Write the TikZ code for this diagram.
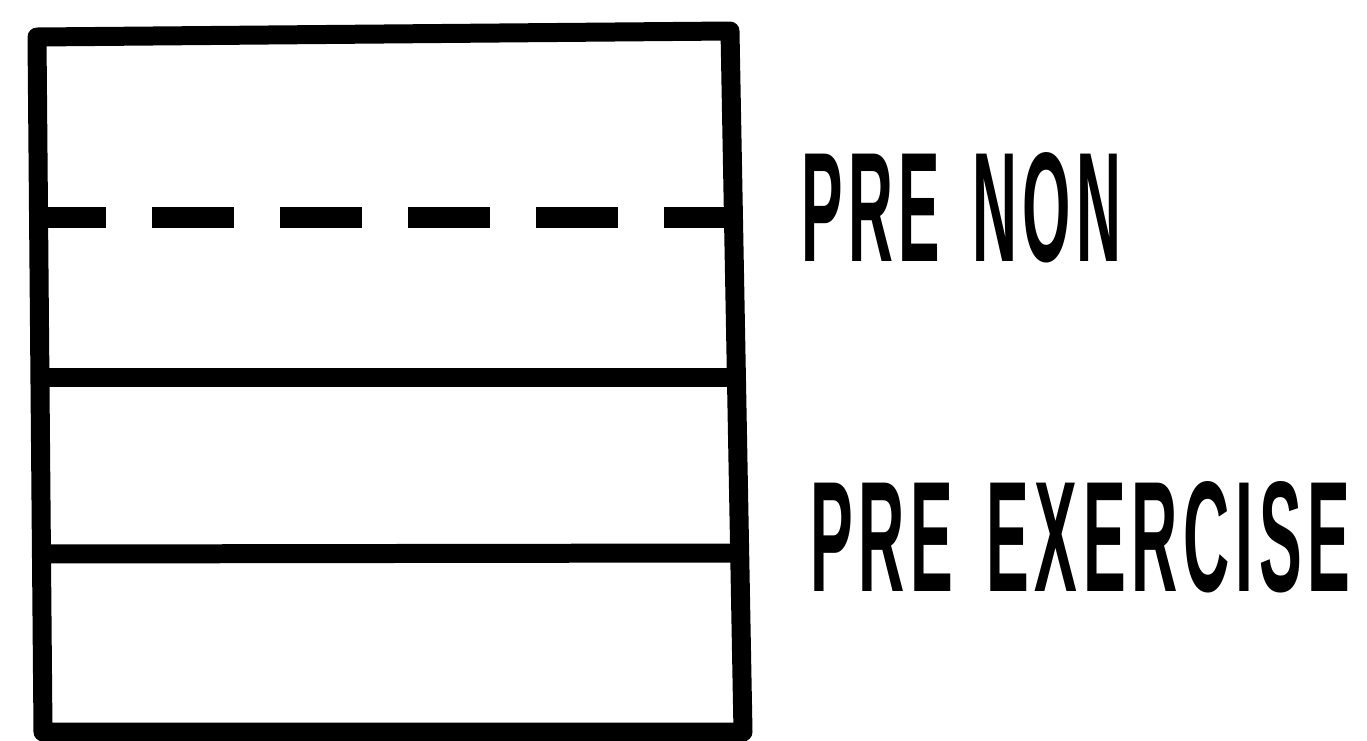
\documentclass[tikz,border=0pt]{standalone}
\usepackage{fontspec}
\usepackage{graphicx}
\setmainfont{Liberation Sans}
\newfontfamily\labelfont[LetterSpace=9,WordSpace=1.4]{Liberation Sans}
\tikzset{
  thick line/.style={line width=0.38cm, black},
  dashline/.style={line width=0.42cm, black, dash pattern=on 1.64cm off 0.92cm, dash phase=0.3cm},
  label text/.style={anchor=west, inner sep=0pt, outer sep=0pt, font=\labelfont\bfseries}
}
\begin{document}
\begin{tikzpicture}[x=0.02cm, y=-0.02cm]
\useasboundingbox (0,0) rectangle (1367,741);
% box corners
\coordinate (tl) at (37,37);
\coordinate (tr) at (730,31);
\coordinate (br) at (743,732);
\coordinate (bl) at (43,732);
% divider end points
\coordinate (dl) at (39,217);
\coordinate (dr) at (733,217);
\coordinate (al) at (40,377);
\coordinate (ar) at (736,377);
\coordinate (bbl) at (41,554);
\coordinate (bbr) at (739,553);
\draw[thick line, line join=round] (tl) -- (tr) -- (br) -- (bl) -- cycle;
\draw[dashline] (dl) -- (dr);
\draw[thick line] (al) -- (ar);
\draw[thick line] (bbl) -- (bbr);
\node[label text] (prenon) at (801,208) {\resizebox{6.3cm}{2.18cm}{PRE NON\kern-0.09em}};
\node[label text] (preex) at (810,537) {\resizebox{10.7cm}{2.2cm}{PRE EXERCISE\kern-0.09em}};
\end{tikzpicture}
\end{document}
